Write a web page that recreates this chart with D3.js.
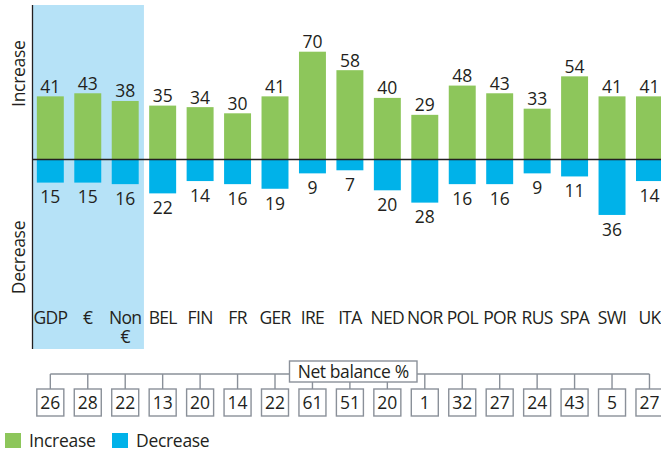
<!DOCTYPE html>
<html><head><meta charset="utf-8">
<script src="https://cdn.jsdelivr.net/npm/d3@7"></script>
<style>
html,body{margin:0;padding:0;background:#fff;}
svg{display:block;font-family:"Open Sans",sans-serif;font-weight:500;}
</style></head>
<body><div id="chart"></div>
<script>
const categories = ["GDP","€","Non €","BEL","FIN","FR","GER","IRE","ITA","NED","NOR","POL","POR","RUS","SPA","SWI","UK"];
const increase = [41,43,38,35,34,30,41,70,58,40,29,48,43,33,54,41,41];
const decrease = [15,15,16,22,14,16,19,9,7,20,28,16,16,9,11,36,14];
const netBalance = [26,28,22,13,20,14,22,61,51,20,1,32,27,24,43,5,27];
const shadedCount = 3;
const legendItems = ["Increase","Decrease"];

const W = 661, H = 451;
const green = "#8dc65b", blue = "#00b2e9", band = "#b6e2f7", ink = "#231f20", gray = "#8a9099";

const svg = d3.select("#chart").append("svg").attr("width", W).attr("height", H);

const x = d3.scaleBand().domain(categories).range([31.6, 668.2]).paddingInner(0.28).paddingOuter(0.14);
const y = d3.scaleLinear().domain([-60, 100]).range([251.9, 5.5]);
const step = x.step(), bw = x.bandwidth();
const cx = c => x(c) + bw / 2;

// shaded band
const bandRight = x(categories[shadedCount]) - (step - bw) / 2;
svg.append("rect").attr("x", 32).attr("y", 5).attr("width", bandRight - 32).attr("height", 344).attr("fill", band);

// bars
svg.selectAll(".inc").data(categories).join("rect")
  .attr("x", d => x(d)).attr("width", bw)
  .attr("y", (d, i) => y(increase[i])).attr("height", (d, i) => y(0) - y(increase[i]))
  .attr("fill", green);
svg.selectAll(".dec").data(categories).join("rect")
  .attr("x", d => x(d)).attr("width", bw)
  .attr("y", y(0)).attr("height", (d, i) => y(-decrease[i]) - y(0))
  .attr("fill", blue);

// axis line & zero line
svg.append("line").attr("x1", 32.5).attr("x2", 32.5).attr("y1", 5).attr("y2", 349).attr("stroke", ink).attr("stroke-width", 1.3);
svg.append("line").attr("x1", 32).attr("x2", W).attr("y1", y(0)).attr("y2", y(0)).attr("stroke", ink).attr("stroke-width", 1.3);

// value labels
const fs = 17.5;
svg.selectAll(".incl").data(categories).join("text")
  .attr("x", d => cx(d)).attr("y", (d, i) => y(increase[i]) - 3.5)
  .attr("text-anchor", "middle").attr("font-size", fs).attr("fill", ink)
  .text((d, i) => increase[i]);
svg.selectAll(".decl").data(categories).join("text")
  .attr("x", d => cx(d)).attr("y", (d, i) => y(-decrease[i]) + 20.8)
  .attr("text-anchor", "middle").attr("font-size", fs).attr("fill", ink)
  .text((d, i) => decrease[i]);

// rotated axis titles
svg.append("text").attr("transform", "translate(25,73.7) rotate(-90)").attr("text-anchor", "middle")
  .attr("font-size", fs).attr("fill", ink).attr("letter-spacing", -0.3).text("Increase");
svg.append("text").attr("transform", "translate(25,257.5) rotate(-90)").attr("text-anchor", "middle")
  .attr("font-size", fs).attr("fill", ink).attr("letter-spacing", -0.3).text("Decrease");

// category labels (multi-word labels wrap onto two lines)
categories.forEach(c => {
  c.split(" ").forEach((p, j) => {
    svg.append("text").attr("x", cx(c)).attr("y", 324 + j * 19).attr("text-anchor", "middle")
      .attr("font-size", fs).attr("fill", ink).attr("letter-spacing", -0.7).text(p);
  });
});

// net balance bracket
const bracketY = 374, boxTop = 389, boxH = 27, boxW = 27;
svg.append("line").attr("x1", cx(categories[0])).attr("x2", cx(categories[categories.length - 1]))
  .attr("y1", bracketY).attr("y2", bracketY).attr("stroke", gray).attr("stroke-width", 1.4);
svg.selectAll(".tick").data(categories).join("line")
  .attr("x1", d => cx(d)).attr("x2", d => cx(d)).attr("y1", bracketY).attr("y2", boxTop)
  .attr("stroke", gray).attr("stroke-width", 1.4);
svg.selectAll(".nbox").data(categories).join("rect")
  .attr("x", d => cx(d) - boxW / 2).attr("y", boxTop).attr("width", boxW).attr("height", boxH)
  .attr("fill", "#fff").attr("stroke", gray).attr("stroke-width", 1.4);
svg.selectAll(".nlab").data(categories).join("text")
  .attr("x", d => cx(d)).attr("y", boxTop + 20.3)
  .attr("text-anchor", "middle").attr("font-size", fs).attr("fill", ink)
  .text((d, i) => netBalance[i]);

// net balance title box
svg.append("rect").attr("x", 289.5).attr("y", 361).attr("width", 127.5).attr("height", 21)
  .attr("fill", "#fff").attr("stroke", gray).attr("stroke-width", 1.4);
svg.append("text").attr("x", 353.2).attr("y", 377.8).attr("text-anchor", "middle")
  .attr("font-size", fs).attr("fill", ink).attr("letter-spacing", -0.4).text("Net balance %");

// legend
const legX = [5, 112], legC = [green, blue];
legendItems.forEach((l, i) => {
  svg.append("rect").attr("x", legX[i]).attr("y", 433).attr("width", 16).attr("height", 15).attr("fill", legC[i]);
  svg.append("text").attr("x", legX[i] + 24).attr("y", 446.5).attr("font-size", fs).attr("fill", ink)
    .attr("letter-spacing", -0.3).text(l);
});
</script></body></html>
